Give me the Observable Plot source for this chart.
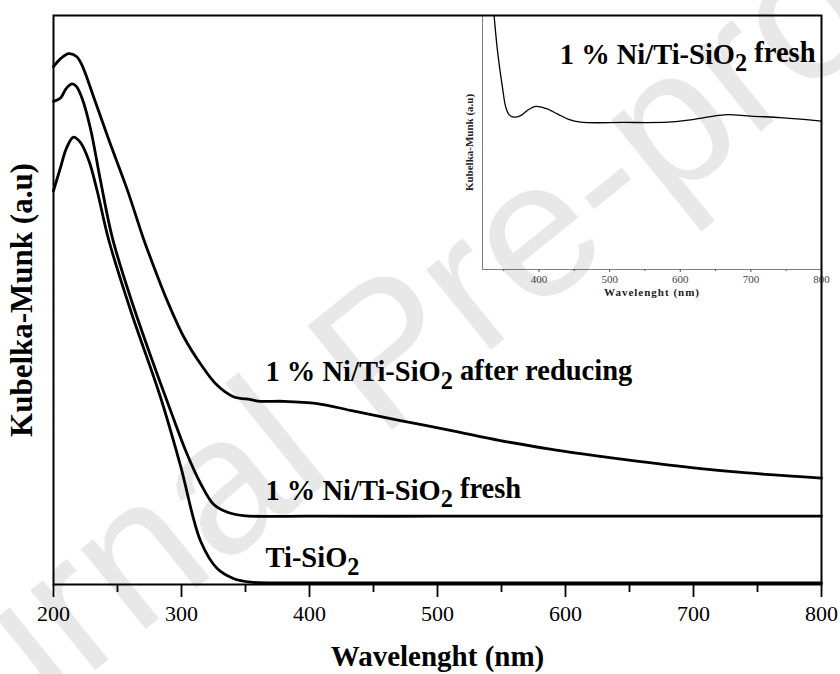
<!DOCTYPE html>
<html><head><meta charset="utf-8">
<script src="https://cdn.jsdelivr.net/npm/d3@7"></script>
<script src="https://cdn.jsdelivr.net/npm/@observablehq/plot@0.6"></script>
<style>
body{margin:0;background:#fff;}
#wrap{position:relative;width:840px;height:674px;overflow:hidden;background:#fff;}
#wrap svg{position:absolute;top:0;}
</style></head><body><div id="wrap"></div>
<script>
// ---- data ----
const reducedWl = [200, 206, 212, 218, 222.4, 231.5, 243, 257.6, 270.1, 275.8, 288.8, 301.8, 314.8, 327.9, 340.6, 353.9, 361.7, 379.7, 406, 432, 471, 510, 549, 588, 611.7, 637.5, 700, 742, 800];
const reducedKM = [91.0, 92.5, 93.3, 92.8, 91.2, 85.6, 78.3, 69.4, 60.9, 57.4, 49.9, 43.5, 38.8, 35.0, 33.0, 32.5, 32.2, 32.2, 31.8, 30.6, 28.8, 27.1, 25.3, 23.8, 23.0, 22.2, 20.5, 19.6, 18.7];

const freshWl = [200, 205.5, 210, 214.6, 218, 222.4, 228.9, 236.7, 245.9, 260.2, 277.1, 291.4, 303.1, 314.8, 325, 335.9, 348.4, 400, 500, 600, 700, 800];
const freshKM = [84.9, 85.5, 87.2, 88.0, 87.5, 85.4, 80.1, 71.0, 61.0, 50.4, 39.4, 30.6, 23.6, 17.8, 14.1, 12.7, 12.1, 12.0, 12.0, 12.0, 12.0, 12.0];

const tiWl = [200, 205.5, 210, 215.4, 221, 227.6, 234.1, 243.2, 260.2, 283.6, 299.2, 314.8, 327.9, 340.6, 353.9, 400, 500, 600, 700, 800];
const tiKM = [69.2, 73.3, 76.6, 78.6, 77.7, 74.5, 69.2, 60.5, 48.2, 32.9, 20.9, 7.7, 2.8, 1.05, 0.4, 0.3, 0.3, 0.3, 0.3, 0.3];

const insetWl = [330, 336.4, 341.2, 348.2, 352.9, 357, 363.8, 374, 385.5, 395.4, 409.5, 426, 442, 459, 520, 581.7, 614.6, 643, 666.6, 699.6, 742, 770, 800];
const insetKM = [122, 100, 86.2, 71.8, 63.9, 61.2, 60.0, 60.6, 63.0, 64.2, 63.4, 61.3, 59.1, 58.0, 57.9, 58.0, 58.9, 60.2, 61.0, 60.4, 59.8, 59.2, 58.4];

const xTicks = [200, 300, 400, 500, 600, 700, 800];
const xMinor = [250, 350, 450, 550, 650, 750];
const insetTicks = [400, 500, 600, 700, 800];
const insetMinor = [350, 450, 550, 650, 750];

const seriesLabels = ["1 % Ni/Ti-SiO₂ after reducing", "1 % Ni/Ti-SiO₂ fresh", "Ti-SiO₂"];
const insetTitle = "1 % Ni/Ti-SiO₂ fresh";
const xLabel = "Wavelenght (nm)";
const yLabel = "Kubelka-Munk (a.u)";
const watermark = "Journal Pre-proof";

// annotation anchors (data units)
const labelWl = [365.6, 365.6, 365.6];
const labelKM = [37.3, 16.5, 4.6];

const rows = (wl, km, name) => wl.map((w, i) => ({wl: w, km: km[i], name}));
const mainData = [
  ...rows(reducedWl, reducedKM, "reduced"),
  ...rows(freshWl, freshKM, "fresh"),
  ...rows(tiWl, tiKM, "ti")
];
const insetData = rows(insetWl, insetKM, "inset");
const labelData = seriesLabels.map((t, i) => ({t, wl: labelWl[i], km: labelKM[i]}));

const serif = "'Liberation Serif', 'Times New Roman', serif";

const inset = Plot.plot({
  width: 410, height: 310,
  marginLeft: 52, marginRight: 19, marginTop: 15, marginBottom: 41,
  x: {domain: [320, 800], label: null},
  y: {domain: [0, 100], axis: null, label: null},
  style: {fontFamily: serif, background: "transparent", color: "#000"},
  marks: [
    Plot.ruleX([320], {stroke: "#808080", strokeWidth: 1}),
    Plot.ruleY([0], {stroke: "#808080", strokeWidth: 1}),
    Plot.axisX(insetTicks, {tickSize: 3, tickPadding: 3, fontSize: 11, stroke: "#555", color: "#444", label: null}),
    Plot.axisX(insetMinor, {tickSize: 2, tickFormat: () => "", stroke: "#555", label: null}),
    Plot.line(insetData, {x: "wl", y: "km", curve: "catmull-rom", clip: true, stroke: "#000", strokeWidth: 1.3}),
    Plot.text([yLabel], {frameAnchor: "left", textAnchor: "middle", rotate: -90, dx: -13, fontSize: 11, fontWeight: "bold", fill: "#222"}),
    Plot.text([xLabel], {frameAnchor: "bottom", textAnchor: "middle", dy: 26, fontSize: 11, fontWeight: "bold", fill: "#222", className: "spaced"}),
    Plot.text([insetTitle], {frameAnchor: "top-right", dx: -6, dy: 27.9, textAnchor: "end", fontSize: 28.5, fontWeight: "bold"})
  ]
});
inset.style.left = "430px";

const main = Plot.plot({
  width: 840, height: 674,
  marginLeft: 53, marginRight: 19, marginTop: 15, marginBottom: 90,
  x: {domain: [200, 800], label: null},
  y: {domain: [0, 100], axis: null, label: null},
  style: {fontFamily: serif, background: "transparent", color: "#000"},
  marks: [
    Plot.frame({stroke: "#000", strokeWidth: 2}),
    Plot.line(mainData, {x: "wl", y: "km", z: "name", curve: "catmull-rom", stroke: "#000", strokeWidth: 2.8}),
    Plot.axisX(xTicks, {tickSize: 13, tickPadding: 8, fontSize: 22, strokeWidth: 1.8, label: null}),
    Plot.axisX(xMinor, {tickSize: 8, tickFormat: () => "", strokeWidth: 1.8, label: null}),
    Plot.text(labelData, {x: "wl", y: "km", text: "t", textAnchor: "start", fontSize: 28.5, fontWeight: "bold"}),
    Plot.text([xLabel], {frameAnchor: "bottom", textAnchor: "middle", dy: 81, fontSize: 29, fontWeight: "bold"}),
    Plot.text([yLabel], {frameAnchor: "left", textAnchor: "middle", rotate: -90, dx: -31, fontSize: 31, fontWeight: "bold"}),
    Plot.text([watermark], {frameAnchor: "middle", textAnchor: "middle", dx: -51, dy: 54, rotate: -39, fontSize: 195, fontFamily: "'Liberation Sans', Arial, sans-serif", fill: "#000", fillOpacity: 0.09})
  ]
});
main.style.left = "0px";

const wrap = document.getElementById("wrap");
wrap.appendChild(inset);
wrap.appendChild(main);

d3.select(inset).selectAll(".spaced text").style("letter-spacing", "1px");

// subscripts for "₂"
function subscripts(svg) {
  d3.select(svg).selectAll("text").each(function() {
    const s = this.textContent;
    if (!s.includes("₂")) return;
    const parts = s.split("₂");
    const t = d3.select(this);
    t.text(null);
    parts.forEach((p, i) => {
      if (i > 0) t.append("tspan").attr("dy", "0.3em").attr("font-size", "0.85em").text("2");
      const ts = t.append("tspan").text(p);
      if (i > 0) ts.attr("dy", "-0.3em");
    });
  });
}
subscripts(main);
subscripts(inset);
</script></body></html>
